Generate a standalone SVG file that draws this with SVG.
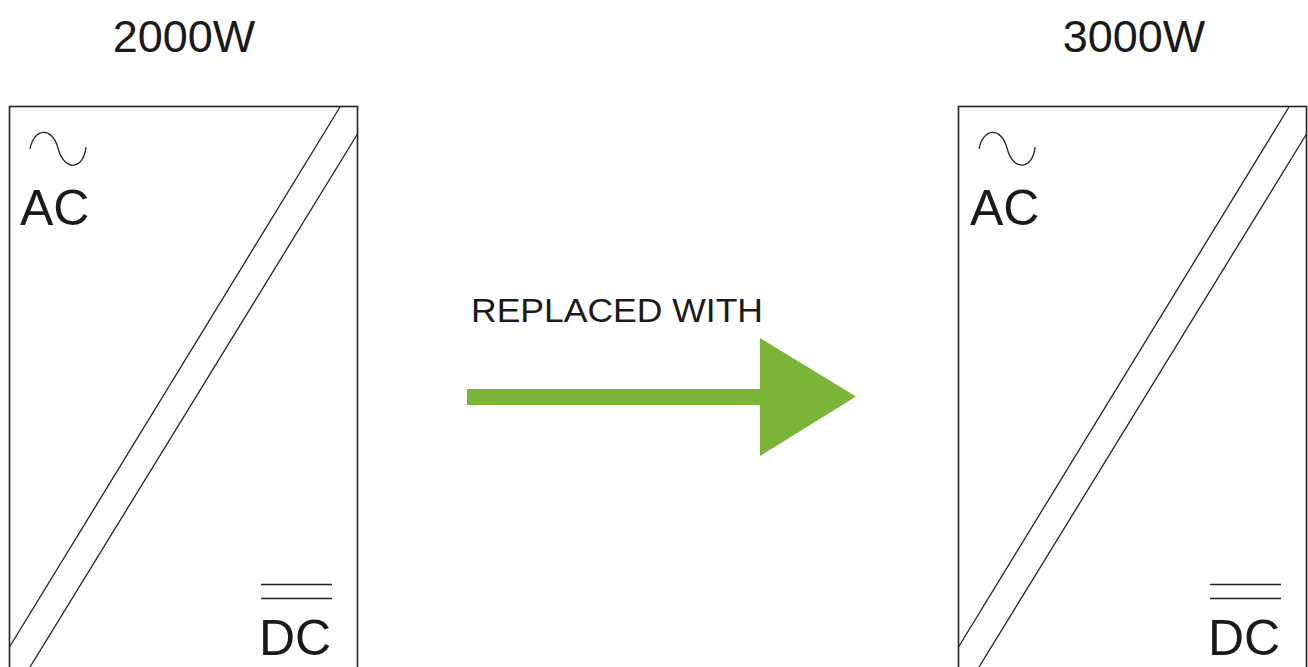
<svg xmlns="http://www.w3.org/2000/svg" width="1308" height="667" viewBox="0 0 1308 667">
<defs><style>
text{font-family:"Liberation Sans",Arial,sans-serif;fill:#1a1a1a}
.l{fill:none;stroke:#222;stroke-width:1.3}
.b{fill:#fff;stroke:#222;stroke-width:1.6}
.big{font-size:50px}
.t{font-size:45px}
</style></defs>
<rect width="1308" height="667" fill="#fff"/>
<g id="unit-2000w">
<text class="t" x="184" y="52" text-anchor="middle">2000W</text>
<rect class="b" x="9.500" y="106.500" width="348" height="570"/>
<path class="l" d="M340 107L9.500 647M357.500 134L30 667"/>
<path class="l" d="M30 149C34 128 52 126 58 148C64 172 84 170 86 147"/>
<text class="big" x="20" y="225">AC</text>
<path class="l" d="M261 584.500H332M261 598.500H332"/>
<text class="big" x="259" y="655">DC</text>
</g>
<g id="unit-3000w">
<text class="t" x="1134" y="52" text-anchor="middle">3000W</text>
<rect class="b" x="958.500" y="106.500" width="348" height="570"/>
<path class="l" d="M1289 107L958.500 647M1306.500 134L979 667"/>
<path class="l" d="M979 149C983 128 1001 126 1007 148C1013 172 1033 170 1035 147"/>
<text class="big" x="970" y="225">AC</text>
<path class="l" d="M1210 584.500H1281M1210 598.500H1281"/>
<text class="big" x="1208" y="655">DC</text>
</g>
<g id="connectors">
<path d="M467 389H760V338L856 396.500L760 456V405H467Z" fill="#7ab53a"/>
</g>
<text x="471" y="322" font-size="33" textLength="292" lengthAdjust="spacingAndGlyphs">REPLACED WITH</text>
</svg>
